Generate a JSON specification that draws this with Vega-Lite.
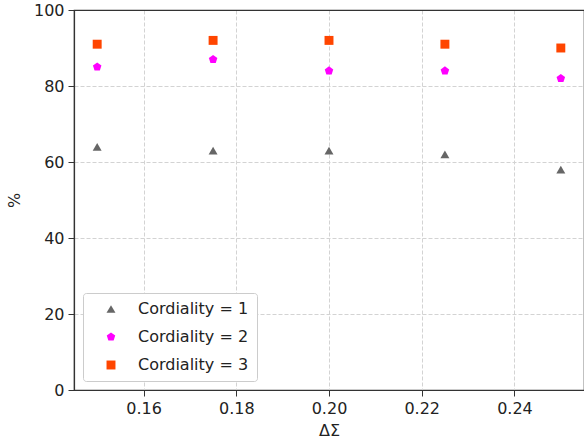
{
  "$schema": "https://vega.github.io/schema/vega-lite/v6.json",
  "width": 510,
  "height": 380,
  "autosize": {"type": "none"},
  "padding": {"left": 74, "top": 10, "right": 0, "bottom": 52},
  "background": "white",
  "config": {
    "font": "DejaVu Sans",
    "view": {"stroke": "#333333", "strokeWidth": 1.2},
    "axis": {
      "domainColor": "#333333",
      "domainWidth": 1.2,
      "tickColor": "#333333",
      "tickSize": 6,
      "labelFontSize": 16,
      "labelColor": "#222222",
      "titleFontSize": 16,
      "titleFontWeight": "normal",
      "titleColor": "#222222",
      "gridWidth": 1
    }
  },
  "data": {
    "values": [
      {"ds": 0.15, "pct": 64, "series": "Cordiality = 1"},
      {"ds": 0.175, "pct": 63, "series": "Cordiality = 1"},
      {"ds": 0.2, "pct": 63, "series": "Cordiality = 1"},
      {"ds": 0.225, "pct": 62, "series": "Cordiality = 1"},
      {"ds": 0.25, "pct": 58, "series": "Cordiality = 1"},
      {"ds": 0.15, "pct": 85, "series": "Cordiality = 2"},
      {"ds": 0.175, "pct": 87, "series": "Cordiality = 2"},
      {"ds": 0.2, "pct": 84, "series": "Cordiality = 2"},
      {"ds": 0.225, "pct": 84, "series": "Cordiality = 2"},
      {"ds": 0.25, "pct": 82, "series": "Cordiality = 2"},
      {"ds": 0.15, "pct": 91, "series": "Cordiality = 3"},
      {"ds": 0.175, "pct": 92, "series": "Cordiality = 3"},
      {"ds": 0.2, "pct": 92, "series": "Cordiality = 3"},
      {"ds": 0.225, "pct": 91, "series": "Cordiality = 3"},
      {"ds": 0.25, "pct": 90, "series": "Cordiality = 3"}
    ]
  },
  "mark": {"type": "point", "filled": true, "opacity": 1, "size": 80},
  "encoding": {
    "x": {
      "field": "ds",
      "type": "quantitative",
      "title": "ΔΣ",
      "scale": {"domain": [0.145, 0.255], "nice": false, "zero": false},
      "axis": {"values": [0.16, 0.18, 0.2, 0.22, 0.24], "format": ".2f", "labelPadding": 4, "titlePadding": 6, "gridColor": "#d3d3d3", "gridDash": [4, 2]}
    },
    "y": {
      "field": "pct",
      "type": "quantitative",
      "title": "%",
      "scale": {"domain": [0, 100], "nice": false},
      "axis": {
        "values": [0, 20, 40, 60, 80, 100],
        "labelPadding": 4,
        "titlePadding": 11,
        "gridColor": {"condition": {"test": "datum.value >= 100 || datum.value <= 0", "value": "#333333"}, "value": "#d3d3d3"},
        "gridDash": {"condition": {"test": "datum.value >= 100 || datum.value <= 0", "value": []}, "value": [4, 2]},
        "gridWidth": {"condition": {"test": "datum.value >= 100 || datum.value <= 0", "value": 1.2}, "value": 1}
      }
    },
    "color": {
      "field": "series",
      "type": "nominal",
      "scale": {"domain": ["Cordiality = 1", "Cordiality = 2", "Cordiality = 3"], "range": ["#666666", "#ff00ff", "#ff4500"]},
      "legend": {
        "title": null,
        "orient": "bottom-left",
        "offset": 9,
        "fillColor": "white",
        "strokeColor": "#cccccc",
        "cornerRadius": 3,
        "padding": 8,
        "labelFontSize": 16,
        "labelColor": "#222222",
        "symbolSize": 80,
        "symbolOffset": 12,
        "labelOffset": 19,
        "rowPadding": 12
      }
    },
    "shape": {
      "field": "series",
      "type": "nominal",
      "scale": {"domain": ["Cordiality = 1", "Cordiality = 2", "Cordiality = 3"], "range": ["triangle-up", "M0,-1L0.951,-0.309L0.588,0.809L-0.588,0.809L-0.951,-0.309Z", "square"]},
      "legend": null
    }
  }
}
